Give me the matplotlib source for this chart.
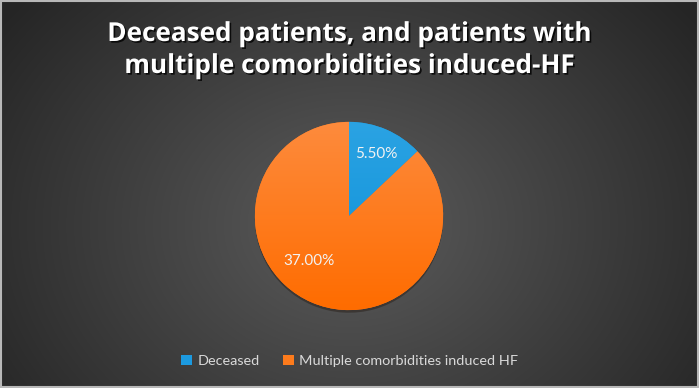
import numpy as np
import matplotlib.pyplot as plt
import matplotlib.patheffects as pe
from matplotlib.patches import Patch
from matplotlib.colors import to_rgb

# data
categories = ["Deceased", "Multiple comorbidities induced HF"]
values = [5.5, 37.0]
value_labels = ["5.50%", "37.00%"]
colors = ["#1c9ae0", "#fd7b1c"]
# top / bottom shades for the gradient fill
grad_top = ["#2ba3e3", "#fd8b3d"]
grad_bot = ["#0a8fd8", "#ff6c00"]
title_lines = ["Deceased patients, and patients with",
               "multiple comorbidities induced-HF"]

W, H = 699, 388
fig = plt.figure(figsize=(W / 100, H / 100), dpi=100)

# radial gradient background
bg = fig.add_axes([0, 0, 1, 1])
yy, xx = np.mgrid[0:H, 0:W]
d = np.sqrt(((xx - W * 0.5) / (W * 0.62)) ** 2 + ((yy - H * 0.58) / (H * 0.9)) ** 2)
d = np.clip(d, 0, 1)
c0 = np.array([0x5c, 0x5c, 0x5c]) / 255
c1 = np.array([0x25, 0x25, 0x25]) / 255
img = c0[None, None, :] * (1 - d[..., None]) + c1[None, None, :] * d[..., None]
bg.imshow(img, extent=[0, W, H, 0], aspect="auto")
bg.set_xlim(0, W)
bg.set_ylim(H, 0)
bg.axis("off")
bg.add_patch(plt.Rectangle((0.5, 0.5), W - 1.5, H - 1.5, fill=False, ec="#b8b8b8", lw=1.5))

# title, two lines placed on their baselines
shadow = [pe.withSimplePatchShadow(offset=(1.2, -1.2), shadow_rgbFace="black", alpha=0.8)]
for line, base in zip(title_lines, [41, 73]):
    fig.text(0.5, 1 - base / H, line, ha="center", va="baseline", fontsize=18.8,
             fontweight="bold", family="Open Sans", color="white",
             path_effects=shadow)

# pie
cx, cy, r = 349, 216, 96
ax = fig.add_axes([(cx - r) / W, (H - cy - r) / H, 2 * r / W, 2 * r / H])
wedges, texts = ax.pie(values, colors=colors, startangle=90, counterclock=False,
                       radius=1, wedgeprops=dict(linewidth=0),
                       labels=value_labels, labeldistance=0.72,
                       textprops=dict(color="#f2f2f2", fontsize=11, family="Lato", zorder=5),
                       shadow=dict(ox=0.0, oy=-0.02, shade=0.9, alpha=0.35))
# vertical gradient fill for each slice
ramp = np.linspace(0, 1, 256)[:, None, None]
for w, top, bot in zip(wedges, grad_top, grad_bot):
    t, b = np.array(to_rgb(top)), np.array(to_rgb(bot))
    g = t[None, None, :] * (1 - ramp) + b[None, None, :] * ramp
    g = np.repeat(g, 2, axis=1)
    im = ax.imshow(g, extent=[-1, 1, -1, 1], origin="upper", aspect="auto", zorder=2)
    im.set_clip_path(w)
for t in texts:
    t.set_ha("center")
    t.set_va("center")
texts[1].set_position((-0.42, -0.48))
ax.set_xlim(-1.02, 1.02)
ax.set_ylim(-1.02, 1.02)
ax.set_aspect("equal")
ax.axis("off")

handles = [Patch(facecolor=c, edgecolor="none") for c in colors]
fig.legend(handles, categories, loc="center", bbox_to_anchor=(0.5, 1 - 361 / H),
           ncol=2, frameon=False, handlelength=0.75, handleheight=0.75,
           handletextpad=0.35, columnspacing=1.6,
           prop=dict(family="Lato", size=10.4), labelcolor="#d9d9d9")

fig.savefig("out.png", dpi=100)
